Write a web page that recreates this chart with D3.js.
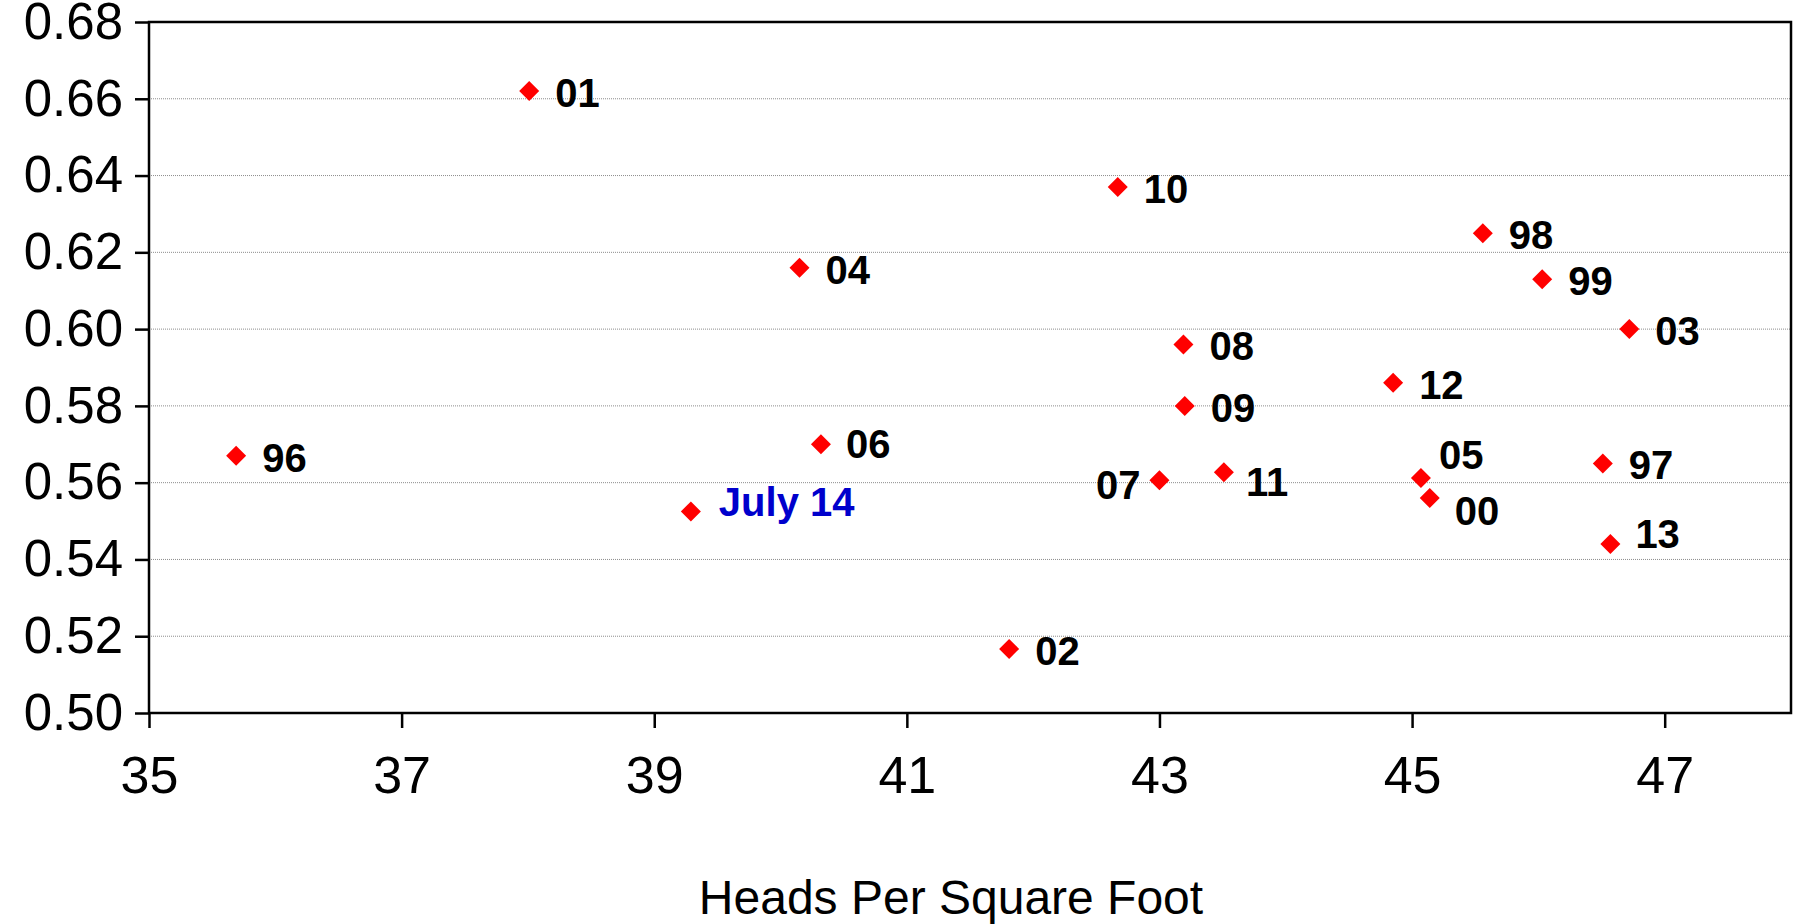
<!DOCTYPE html>
<html>
<head>
<meta charset="utf-8">
<script src="https://cdn.jsdelivr.net/npm/d3@7"></script>
<style>
  body { margin: 0; background: #fff; }
  text { font-family: "Liberation Sans", Arial, sans-serif; }
</style>
</head>
<body>
<svg id="vis"></svg>
<script>
// DATOS ---------------------------------------------------------------
const etiquetas = ["01", "10", "04", "98", "99", "03", "08", "12", "09", "06",
  "96", "07", "11", "05", "97", "00", "July 14", "13", "02"];
const cabezasPorPie = [38.01, 42.67, 40.15, 45.56, 46.03, 46.72, 43.19, 44.85, 43.20, 40.32,
  35.69, 43.00, 43.51, 45.07, 46.51, 45.14, 39.29, 46.57, 41.81];
const valores = [0.662, 0.637, 0.616, 0.625, 0.613, 0.600, 0.596, 0.586, 0.580, 0.570,
  0.567, 0.5606, 0.5627, 0.5612, 0.565, 0.556, 0.5525, 0.544, 0.5167];
const ticksX = [35, 37, 39, 41, 43, 45, 47];
const ticksY = [0.50, 0.52, 0.54, 0.56, 0.58, 0.60, 0.62, 0.64, 0.66, 0.68];
const tituloX = "Heads Per Square Foot";

// CONSTANTES ----------------------------------------------------------
const WIDTH = 1796;
const HEIGHT = 924;
const MARGIN = { top: 22, bottom: 211, left: 149, right: 5 };
const HEIGHTVIS = HEIGHT - MARGIN.top - MARGIN.bottom;
const WIDTHVIS = WIDTH - MARGIN.left - MARGIN.right;
const TAM_MARCA = 10;

// posicion de cada etiqueta respecto a su marca (dx, dy, anchor)
const posEtiqueta = {
  "07": { dx: -19, dy: 19, anchor: "end" },
  "11": { dx: 22, dy: 24 },
  "05": { dx: 18, dy: -9 },
  "00": { dx: 25, dy: 27 },
  "13": { dx: 25, dy: 4 },
  "06": { dx: 25, dy: 14 },
  "July 14": { dx: 28, dy: 5 },
};

const svg = d3.select("#vis").attr("width", WIDTH).attr("height", HEIGHT);
svg.append("rect").attr("width", WIDTH).attr("height", HEIGHT).attr("fill", "#fff");

const contenedor = svg
  .append("g")
  .attr("transform", `translate(${MARGIN.left} ${MARGIN.top})`);

// ESCALAS --------------------------------------------------------------
const escalaX = d3.scaleLinear().domain([35, 48]).range([0, WIDTHVIS]);
const escalaY = d3.scaleLinear().domain([0.5, 0.68]).range([HEIGHTVIS, 0]);

// GRILLA ---------------------------------------------------------------
contenedor
  .selectAll(".grilla")
  .data(ticksY.slice(1, -1))
  .join("line")
  .attr("class", "grilla")
  .attr("x1", 0)
  .attr("x2", WIDTHVIS)
  .attr("y1", (d) => escalaY(d))
  .attr("y2", (d) => escalaY(d))
  .attr("stroke", "#8c8c8c")
  .attr("stroke-width", 1)
  .attr("stroke-dasharray", "1 1");

// MARCO ----------------------------------------------------------------
contenedor
  .append("rect")
  .attr("x", 0)
  .attr("y", 0)
  .attr("width", WIDTHVIS)
  .attr("height", HEIGHTVIS)
  .attr("fill", "none")
  .attr("stroke", "#000")
  .attr("stroke-width", 2.5);

// EJE Y ----------------------------------------------------------------
const ejeY = d3
  .axisLeft(escalaY)
  .tickValues(ticksY)
  .tickFormat(d3.format(".2f"))
  .tickSize(14)
  .tickPadding(12);
const gY = contenedor.append("g").call(ejeY);
gY.select(".domain").remove();
gY.selectAll("line").attr("stroke", "#000").attr("stroke-width", 2.5);
gY.selectAll("text")
  .style("font-family", '"Liberation Sans", Arial, sans-serif')
  .style("font-size", "51px")
  .attr("fill", "#000");

// EJE X ----------------------------------------------------------------
const ejeX = d3
  .axisBottom(escalaX)
  .tickValues(ticksX)
  .tickFormat(d3.format("d"))
  .tickSize(15)
  .tickPadding(28);
const gX = contenedor
  .append("g")
  .attr("transform", `translate(0, ${HEIGHTVIS})`)
  .call(ejeX);
gX.select(".domain").remove();
gX.selectAll("line").attr("stroke", "#000").attr("stroke-width", 2.5);
gX.selectAll("text")
  .style("font-family", '"Liberation Sans", Arial, sans-serif')
  .style("font-size", "52px")
  .attr("fill", "#000");

svg
  .append("text")
  .attr("x", 951)
  .attr("y", 914)
  .attr("text-anchor", "middle")
  .style("font-size", "48px")
  .text(tituloX);

// PUNTOS ---------------------------------------------------------------
const datos = etiquetas.map((e, i) => ({
  nombre: e,
  x: cabezasPorPie[i],
  y: valores[i],
}));

contenedor
  .selectAll(".marca")
  .data(datos)
  .join("path")
  .attr("class", "marca")
  .attr("d", `M0,${-TAM_MARCA}L${TAM_MARCA},0L0,${TAM_MARCA}L${-TAM_MARCA},0Z`)
  .attr("transform", (d) => `translate(${escalaX(d.x)},${escalaY(d.y)})`)
  .attr("fill", "#ff0000");

contenedor
  .selectAll(".etiqueta")
  .data(datos)
  .join("text")
  .attr("class", "etiqueta")
  .attr("x", (d) => escalaX(d.x) + (posEtiqueta[d.nombre] ? posEtiqueta[d.nombre].dx : 26))
  .attr("y", (d) => escalaY(d.y) + (posEtiqueta[d.nombre] ? posEtiqueta[d.nombre].dy : 16))
  .attr("text-anchor", (d) => (posEtiqueta[d.nombre] && posEtiqueta[d.nombre].anchor) || "start")
  .style("font-size", "40px")
  .style("font-weight", "bold")
  .attr("fill", (d) => (d.nombre === "July 14" ? "#0000cc" : "#000"))
  .text((d) => d.nombre);
</script>
</body>
</html>
